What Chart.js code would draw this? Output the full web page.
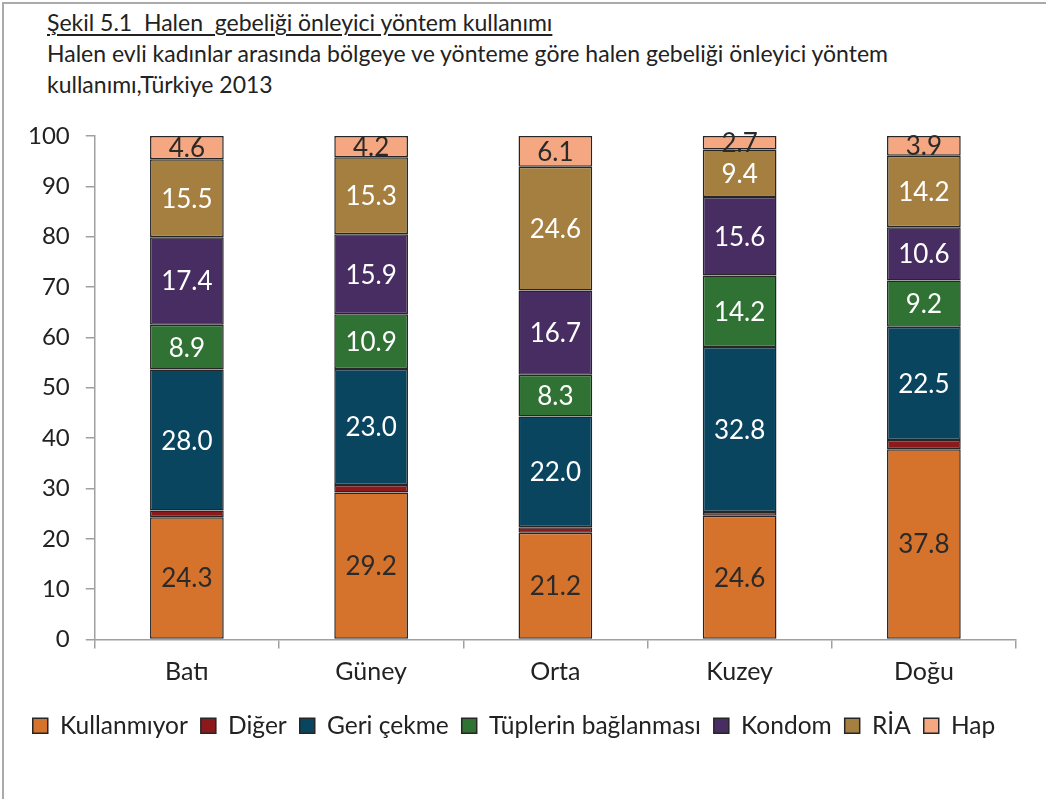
<!DOCTYPE html>
<html lang="tr">
<head>
<meta charset="utf-8">
<script src="https://cdn.jsdelivr.net/npm/chart.js@4"></script>
<style>
  body { margin: 0; background: #fff; }
  #kutu { position: relative; width: 1044px; height: 797px; box-sizing: border-box;
          border-left: 2px solid #aaa; border-top: 2px solid #aaa;
          margin-left: 2px; margin-top: 2px; font-family: Lato, "Open Sans", sans-serif; color: #222; }
  #baslik { position: absolute; left: 43px; top: 3px; font-size: 23px; line-height: 31px; }
  #baslik u { text-decoration-thickness: 2px; text-underline-offset: 3px; }
  #grafik { position: absolute; left: 0; top: 100px; }
</style>
</head>
<body>
<div id="kutu">
  <div id="baslik">
    <u>Şekil 5.1&nbsp; Halen&nbsp; gebeliği önleyici yöntem kullanımı</u><br>
    Halen evli kadınlar arasında bölgeye ve yönteme göre halen gebeliği önleyici yöntem<br>
    kullanımı,Türkiye 2013
  </div>
  <canvas id="grafik" width="1040" height="660"></canvas>
</div>
<script>
const bolgeler = ['Batı', 'Güney', 'Orta', 'Kuzey', 'Doğu'];
const kullanmiyor = [24.3, 29.2, 21.2, 24.6, 37.8];
const diger = [1.3, 1.5, 1.1, 0.7, 1.8];
const geriCekme = [28.0, 23.0, 22.0, 32.8, 22.5];
const tupler = [8.9, 10.9, 8.3, 14.2, 9.2];
const kondom = [17.4, 15.9, 16.7, 15.6, 10.6];
const ria = [15.5, 15.3, 24.6, 9.4, 14.2];
const hap = [4.6, 4.2, 6.1, 2.7, 3.9];
const yTikler = [0, 10, 20, 30, 40, 50, 60, 70, 80, 90, 100];

const seriler = [
    { ad: 'Kullanmıyor', veri: kullanmiyor, renk: '#d5722c', yazi: '#2a2a2a' },
    { ad: 'Diğer', veri: diger, renk: '#8c1a1c', yazi: null },
    { ad: 'Geri çekme', veri: geriCekme, renk: '#0a4560', yazi: '#ffffff' },
    { ad: 'Tüplerin bağlanması', veri: tupler, renk: '#2f7234', yazi: '#ffffff' },
    { ad: 'Kondom', veri: kondom, renk: '#472d61', yazi: '#ffffff' },
    { ad: 'RİA', veri: ria, renk: '#a57f40', yazi: '#ffffff' },
    { ad: 'Hap', veri: hap, renk: '#f4a780', yazi: '#2a2a2a' },
];

const FONT = 'Lato, "Open Sans", sans-serif';

const etiketler = {
    id: 'etiketler',
    afterDatasetsDraw(chart) {
        const ctx = chart.ctx;
        ctx.save();
        ctx.font = '26px ' + FONT;
        ctx.textAlign = 'center';
        ctx.textBaseline = 'middle';
        chart.data.datasets.forEach((ds, i) => {
            if (!ds.yaziRengi) return;
            chart.getDatasetMeta(i).data.forEach((bar, j) => {
                const p = bar.getProps(['x', 'y', 'base'], true);
                ctx.fillStyle = ds.yaziRengi;
                ctx.fillText(ds.data[j].toFixed(1), p.x, (p.y + p.base) / 2 + 1);
            });
        });
        ctx.restore();
    }
};

new Chart(document.getElementById('grafik'), {
    type: 'bar',
    data: {
        labels: bolgeler,
        datasets: seriler.map((s) => ({
            label: s.ad,
            data: s.veri,
            backgroundColor: s.renk,
            borderColor: '#262626',
            borderWidth: 1.5,
            borderSkipped: false,
            categoryPercentage: 0.4,
            barPercentage: 1.0,
            yaziRengi: s.yazi,
        })),
    },
    options: {
        responsive: false,
        animation: false,
        layout: { padding: { top: 32, right: 28, left: 8, bottom: 16 } },
        scales: {
            x: {
                stacked: true,
                afterFit: (ax) => { ax.height += 6; },
                grid: { drawOnChartArea: false, color: '#a0a0a0', tickLength: 9, offset: true, lineWidth: 1.5 },
                border: { color: '#a0a0a0', width: 1.5 },
                ticks: { color: '#222', font: { size: 25, family: FONT }, padding: 8 },
            },
            y: {
                stacked: true,
                min: 0,
                max: 100,
                afterBuildTicks: (ax) => { ax.ticks = yTikler.map((v) => ({ value: v })); },
                grid: { drawOnChartArea: false, color: '#a0a0a0', tickLength: 9, lineWidth: 1.5 },
                border: { color: '#a0a0a0', width: 1.5 },
                ticks: { color: '#222', font: { size: 24, family: FONT }, padding: 16 },
            },
        },
        plugins: {
            legend: {
                position: 'bottom',
                labels: {
                    color: '#222',
                    font: { size: 24.5, family: FONT },
                    boxWidth: 15,
                    boxHeight: 15,
                    padding: 13,
                },
            },
            tooltip: { enabled: false },
        },
    },
    plugins: [etiketler],
});
</script>
</body>
</html>
